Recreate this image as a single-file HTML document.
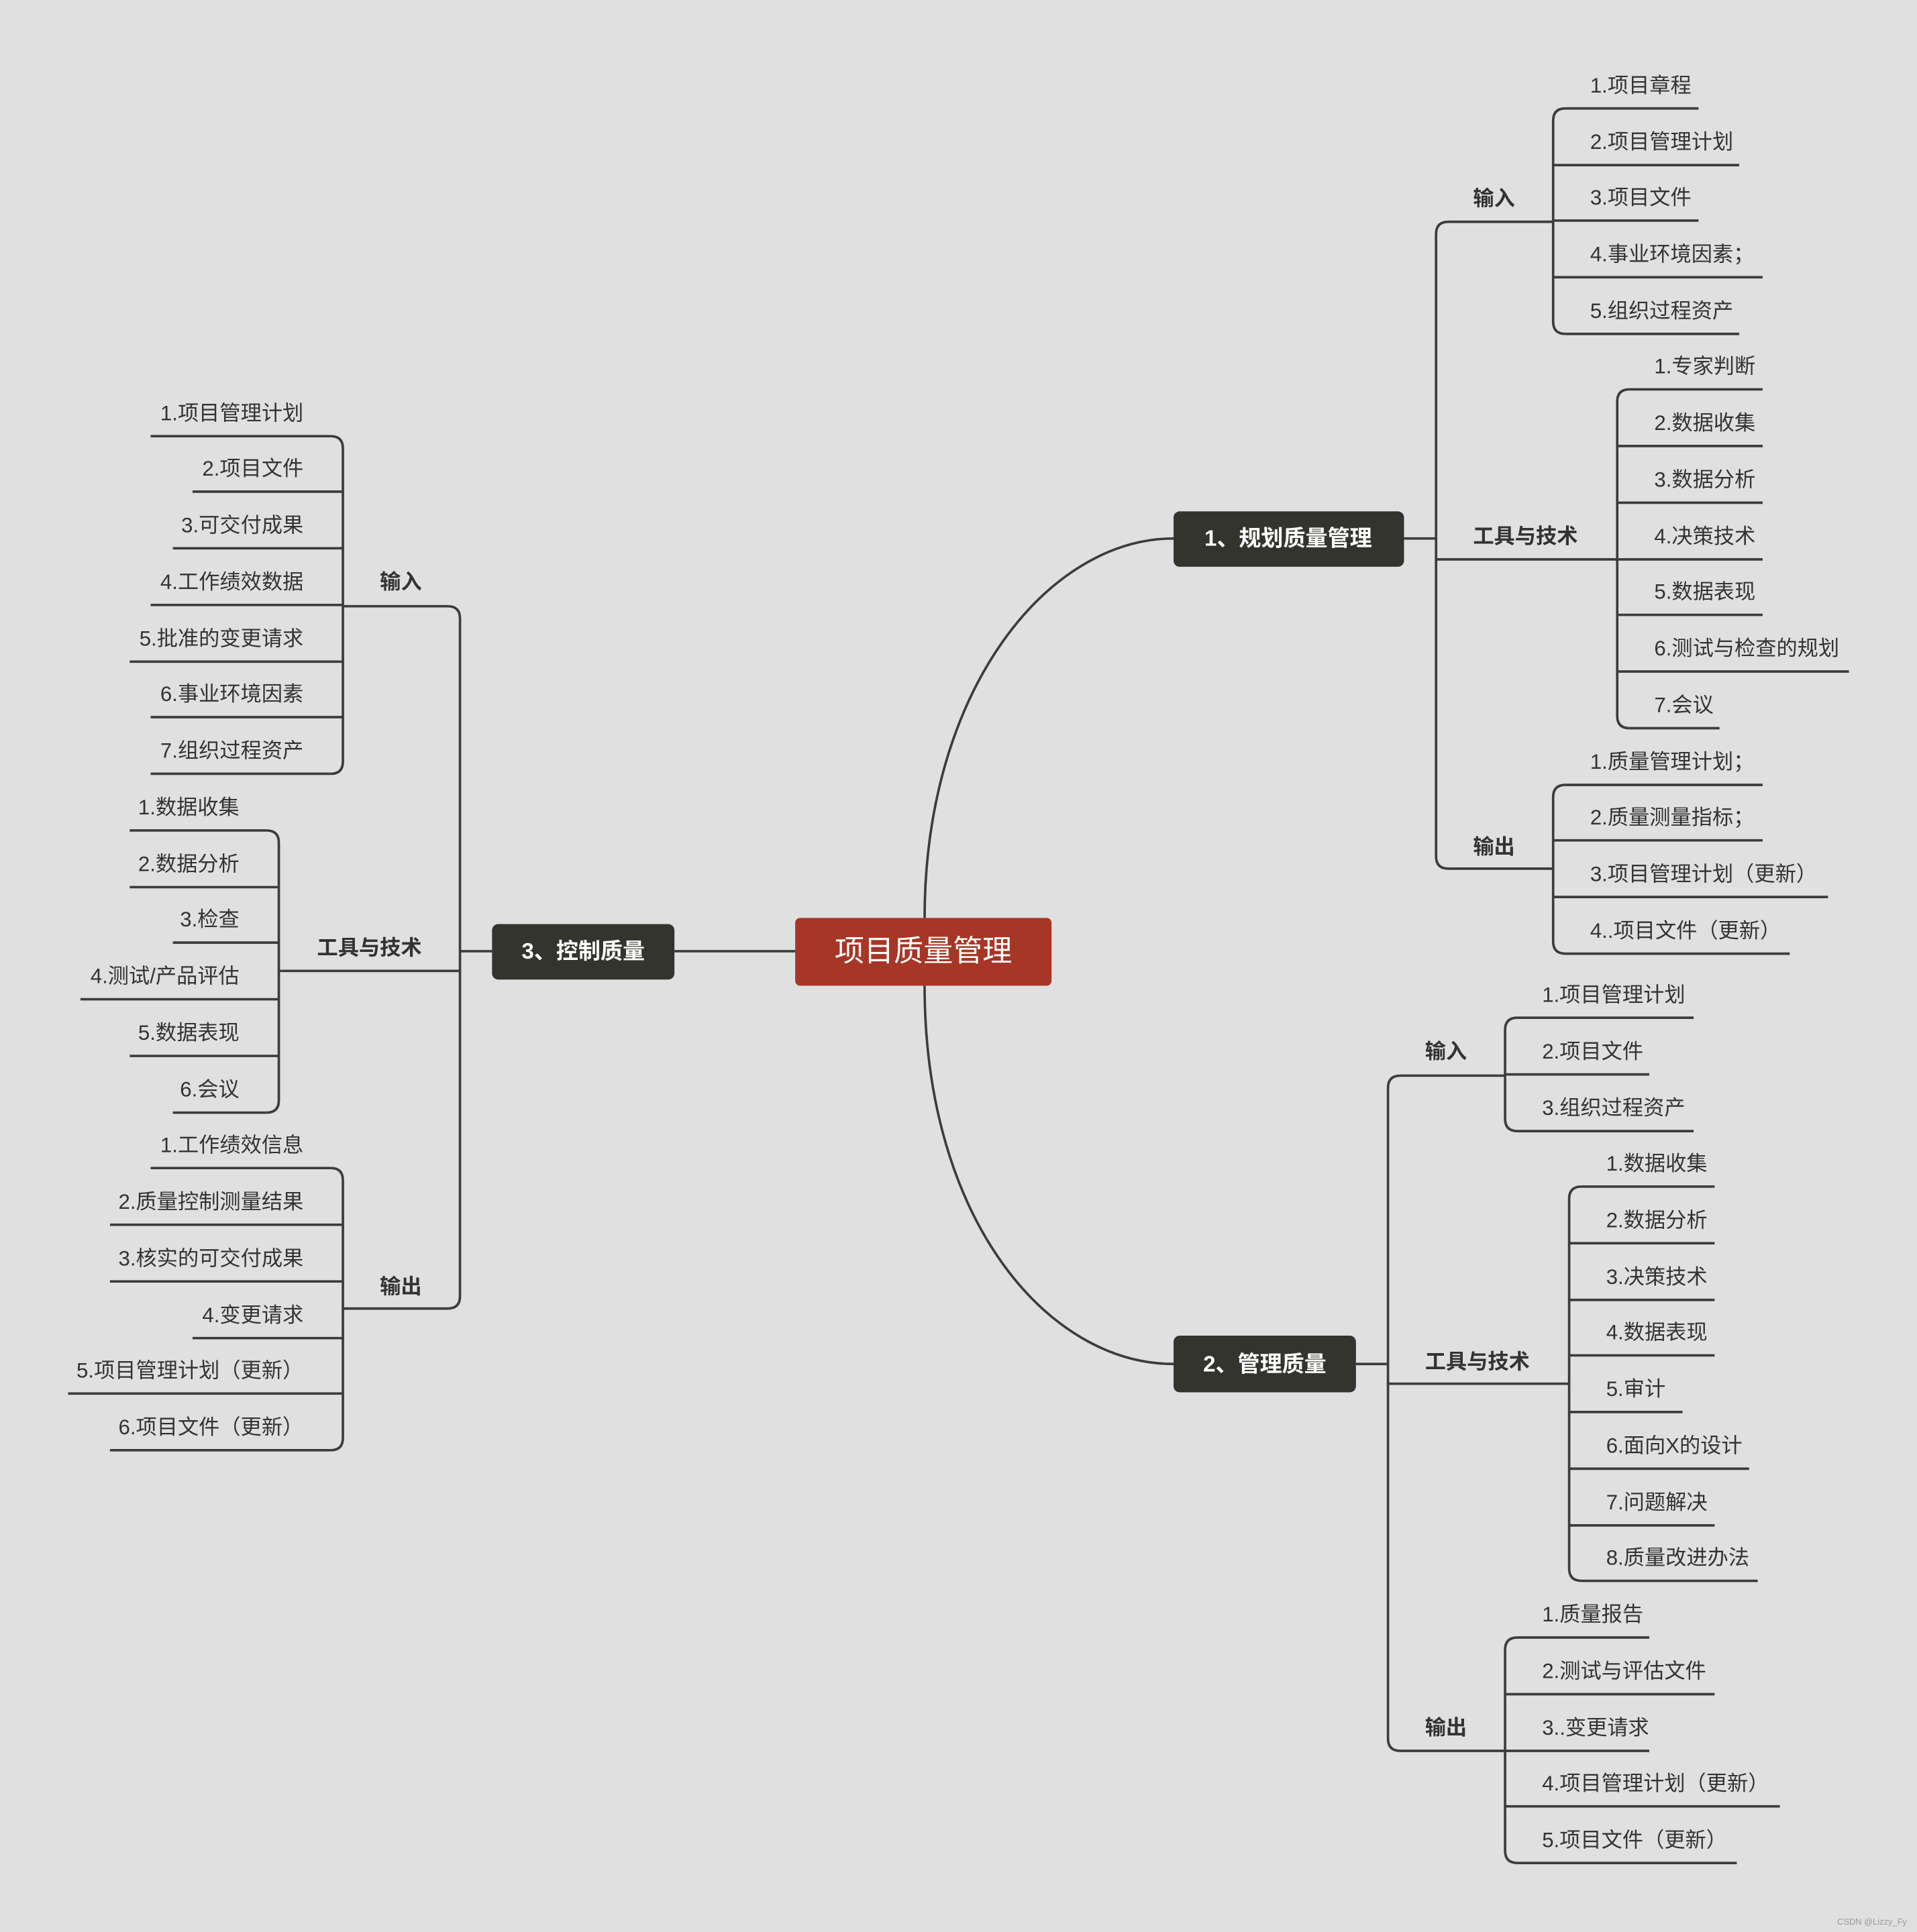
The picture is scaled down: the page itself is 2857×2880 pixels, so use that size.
<!DOCTYPE html>
<html><head><meta charset="utf-8"><style>
html,body{margin:0;padding:0;background:#e0e0e0;}
svg{display:block}
text{font-family:"Liberation Sans","Noto Sans CJK SC",sans-serif;}
.l{font-size:17px;fill:#333;}
.b{font-size:17px;fill:#333;font-weight:bold;}
.n{font-size:18px;fill:#fff;font-weight:bold;}
path,line{stroke:#3c3c3c;stroke-width:2;fill:none;}
</style></head><body>
<svg width="2857" height="2880" viewBox="0 0 1555 1568" xmlns="http://www.w3.org/2000/svg">
<rect width="1555" height="1568" fill="#e0e0e0"/>
<path d="M750,745 C750,560 850,437 952,437"/>
<path d="M750,800 C750,990 850,1107 952,1107"/>
<line x1="547" y1="772" x2="645" y2="772"/>
<rect x="645" y="745" width="208" height="55" rx="4" fill="#a63626"/>
<text x="749" y="780" text-anchor="middle" style="font-size:24px;fill:#fff">项目质量管理</text>
<rect x="952" y="415" width="187" height="45" rx="5" fill="#34342f"/>
<text x="1045" y="443" text-anchor="middle" class="n">1、规划质量管理</text>
<rect x="952" y="1084" width="148" height="46" rx="5" fill="#34342f"/>
<text x="1026" y="1113" text-anchor="middle" class="n">2、管理质量</text>
<rect x="399" y="750" width="148" height="45" rx="5" fill="#34342f"/>
<text x="473" y="778" text-anchor="middle" class="n">3、控制质量</text>

<line x1="1139" y1="437" x2="1165" y2="437"/>
<path d="M1175,180 Q1165,180 1165,190 L1165,695 Q1165,705 1175,705"/>
<line x1="1175" y1="180" x2="1260" y2="180"/>
<line x1="1165" y1="454" x2="1312" y2="454"/>
<line x1="1175" y1="705" x2="1260" y2="705"/>
<text x="1195" y="167" class="b">输入</text>
<text x="1195" y="441" class="b">工具与技术</text>
<text x="1195" y="693" class="b">输出</text>

<line x1="1100" y1="1107" x2="1126" y2="1107"/>
<path d="M1136,873 Q1126,873 1126,883 L1126,1411 Q1126,1421 1136,1421"/>
<line x1="1136" y1="873" x2="1221" y2="873"/>
<line x1="1126" y1="1123" x2="1273" y2="1123"/>
<line x1="1136" y1="1421" x2="1221" y2="1421"/>
<text x="1156" y="859" class="b">输入</text>
<text x="1156" y="1111" class="b">工具与技术</text>
<text x="1156" y="1408" class="b">输出</text>

<line x1="373" y1="772" x2="399" y2="772"/>
<path d="M363,492 Q373,492 373,502 L373,1052 Q373,1062 363,1062"/>
<line x1="278" y1="492" x2="363" y2="492"/>
<line x1="226" y1="788" x2="373" y2="788"/>
<line x1="278" y1="1062" x2="363" y2="1062"/>
<text x="342" y="478" class="b" text-anchor="end">输入</text>
<text x="342" y="775" class="b" text-anchor="end">工具与技术</text>
<text x="342" y="1050" class="b" text-anchor="end">输出</text>
<text x="1547" y="1562" text-anchor="end" style="font-size:7px;fill:#999">CSDN @Lizzy_Fy</text>
</svg>
<script>
var svg=document.querySelector('svg'),NS="http://www.w3.org/2000/svg";
function el(t,a,txt){var e=document.createElementNS(NS,t);for(var k in a)e.setAttribute(k,a[k]);if(txt)e.textContent=txt;svg.appendChild(e);}
function right(vx,tx,items){
 var ys=items.map(function(i){return i[1]+19;});
 var y1=ys[0],yn=ys[ys.length-1];
 el('path',{d:'M'+(vx+10)+','+y1+' Q'+vx+','+y1+' '+vx+','+(y1+10)+' L'+vx+','+(yn-10)+' Q'+vx+','+yn+' '+(vx+10)+','+yn});
 items.forEach(function(it,i){var y=it[1]+19;var s=(i==0||i==items.length-1)?vx+10:vx;
  el('line',{x1:s,y1:y,x2:it[2],y2:y});el('text',{x:tx,y:it[1]+6,'class':'l'},it[0]);});
}
function left(vx,te,items){
 var ys=items.map(function(i){return i[1]+19;});
 var y1=ys[0],yn=ys[ys.length-1];
 el('path',{d:'M'+(vx-10)+','+y1+' Q'+vx+','+y1+' '+vx+','+(y1+10)+' L'+vx+','+(yn-10)+' Q'+vx+','+yn+' '+(vx-10)+','+yn});
 items.forEach(function(it,i){var y=it[1]+19;var s=(i==0||i==items.length-1)?vx-10:vx;
  el('line',{x1:it[2],y1:y,x2:s,y2:y});el('text',{x:te,y:it[1]+6,'class':'l','text-anchor':'end'},it[0]);});
}
right(1260,1290,[["1.项目章程",69,1378],["2.项目管理计划",115,1411],["3.项目文件",160,1378],["4.事业环境因素；",206,1430],["5.组织过程资产",252,1411]]);
right(1312,1342,[["1.专家判断",297,1430],["2.数据收集",343,1430],["3.数据分析",389,1430],["4.决策技术",435,1430],["5.数据表现",480,1430],["6.测试与检查的规划",526,1500],["7.会议",572,1395]]);
right(1260,1290,[["1.质量管理计划；",618,1430],["2.质量测量指标；",663,1430],["3.项目管理计划（更新）",709,1483],["4..项目文件（更新）",755,1452]]);
right(1221,1251,[["1.项目管理计划",807,1374],["2.项目文件",853,1338],["3.组织过程资产",899,1374]]);
right(1273,1303,[["1.数据收集",944,1391],["2.数据分析",990,1391],["3.决策技术",1036,1391],["4.数据表现",1081,1391],["5.审计",1127,1365],["6.面向X的设计",1173,1419],["7.问题解决",1219,1391],["8.质量改进办法",1264,1426]]);
right(1221,1251,[["1.质量报告",1310,1338],["2.测试与评估文件",1356,1391],["3..变更请求",1402,1338],["4.项目管理计划（更新）",1447,1444],["5.项目文件（更新）",1493,1409]]);
left(278,246,[["1.项目管理计划",335,122],["2.项目文件",380,156],["3.可交付成果",426,140],["4.工作绩效数据",472,122],["5.批准的变更请求",518,105],["6.事业环境因素",563,122],["7.组织过程资产",609,122]]);
left(226,194,[["1.数据收集",655,105],["2.数据分析",701,105],["3.检查",746,140],["4.测试/产品评估",792,65],["5.数据表现",838,105],["6.会议",884,140]]);
left(278,246,[["1.工作绩效信息",929,122],["2.质量控制测量结果",975,89],["3.核实的可交付成果",1021,89],["4.变更请求",1067,156],["5.项目管理计划（更新）",1112,55],["6.项目文件（更新）",1158,89]]);
</script>
</body></html>
